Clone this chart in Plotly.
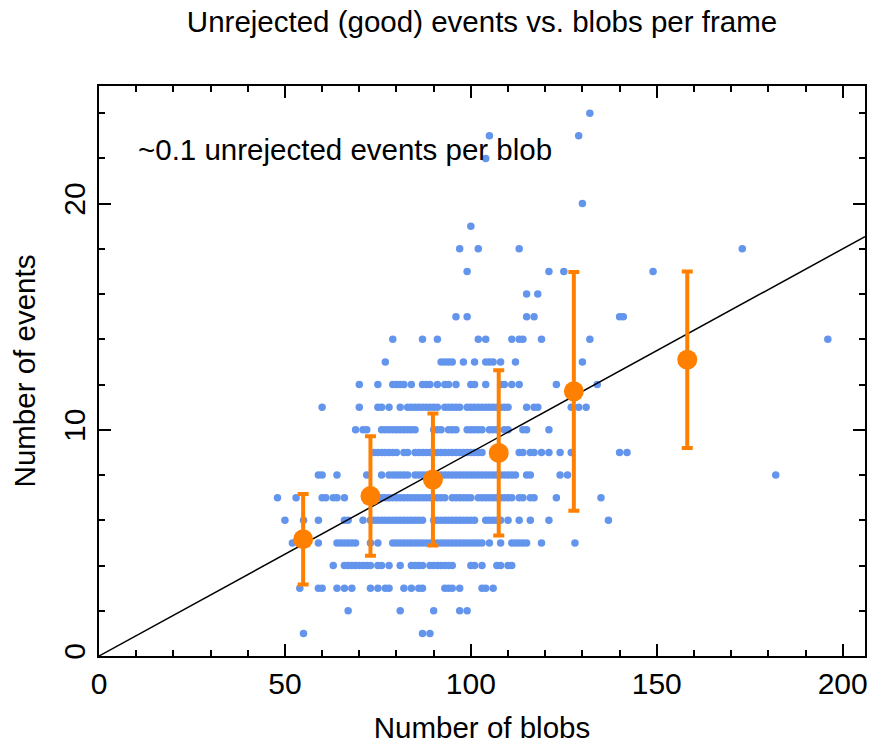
import plotly.graph_objects as go

# Blue scatter: blob counts for each number of (unrejected) events
ev1 = [55, 87, 89]
ev2 = [67, 81, 90, 97, 99]
ev3 = [54, 59, 60, 64, 66, 68, 73, 75, 77, 78, 82, 84, 86, 87, 93, 94, 95, 97, 103, 104, 106]
ev4 = [63, 66, 67, 68, 69, 70, 71, 72, 73, 75, 76, 78, 81, 84, 85, 86, 87, 89, 90, 91, 92, 93, 94, 95,
       100, 101, 103, 107, 108, 110, 111]
ev5 = [52, 55, 59, 64, 65, 66, 67, 68, 69, 73, 75, 79, 80, 81, 82, 83, 84, 85, 86, 87, 88, 89, 90, 91,
       92, 93, 94, 95, 96, 97, 98, 99, 100, 101, 102, 103, 105, 108, 111, 112, 113, 114, 115, 119, 128]
ev6 = [50, 55, 59, 66, 67, 71, 73, 74, 75, 76, 77, 78, 79, 80, 81, 82, 83, 84, 85, 86, 87, 90, 91, 92,
       93, 94, 95, 96, 97, 98, 99, 100, 101, 104, 105, 106, 107, 108, 110, 113, 116, 121, 137]
ev7 = [48, 53, 60, 61, 63, 64, 66, 73, 75, 76, 77, 78, 79, 80, 81, 82, 83, 84, 85, 86, 87, 88, 89, 90,
       91, 92, 93, 95, 96, 97, 98, 99, 100, 102, 103, 104, 105, 106, 107, 108, 109, 110, 111, 113, 114,
       116, 117, 123, 135]
ev8 = [59, 60, 64, 72, 76, 78, 79, 80, 81, 82, 83, 85, 86, 87, 88, 90, 91, 92, 93, 94, 95, 96, 97, 98,
       99, 100, 101, 102, 103, 104, 105, 106, 107, 108, 109, 110, 111, 112, 115, 116, 124, 126, 182]
ev9 = [74, 75, 76, 77, 78, 79, 80, 82, 83, 85, 86, 87, 88, 89, 90, 91, 92, 93, 94, 95, 96, 97, 98, 99,
       100, 101, 102, 103, 108, 113, 114, 116, 117, 119, 121, 124, 127, 140, 142]
ev10 = [69, 71, 72, 76, 77, 78, 79, 80, 81, 82, 83, 84, 85, 90, 91, 92, 94, 95, 96, 99, 100, 101, 102,
        103, 105, 106, 107, 109, 110, 114, 115, 121]
ev11 = [60, 70, 75, 76, 78, 81, 83, 84, 85, 86, 87, 88, 89, 90, 91, 93, 94, 95, 96, 97, 99, 100, 101,
        102, 103, 104, 105, 106, 107, 108, 109, 110, 115, 117, 118, 127, 129, 131]
ev12 = [70, 75, 79, 80, 81, 82, 84, 87, 88, 89, 91, 93, 94, 96, 100, 101, 104, 108, 109, 111, 113, 123, 134]
ev13 = [77, 92, 93, 94, 95, 98, 101, 104, 105, 106, 108, 112, 130]
ev14 = [79, 87, 91, 102, 104, 111, 113, 114, 119, 132, 196]
ev15 = [96, 99, 115, 117, 140, 141]
ev16 = [115, 118]
ev17 = [99, 121, 125, 149]
ev18 = [97, 102, 113, 173]
ev19 = [100]
ev20 = [130]
ev22 = [104]
ev23 = [105, 129]
ev24 = [132]

rows = {1: ev1, 2: ev2, 3: ev3, 4: ev4, 5: ev5, 6: ev6, 7: ev7, 8: ev8, 9: ev9, 10: ev10,
        11: ev11, 12: ev12, 13: ev13, 14: ev14, 15: ev15, 16: ev16, 17: ev17, 18: ev18,
        19: ev19, 20: ev20, 22: ev22, 23: ev23, 24: ev24}

# Binned means (orange) with error bars
mean_blobs = [54.9, 73.0, 89.8, 107.5, 127.7, 158.2]
mean_events = [5.16, 7.07, 7.8, 8.98, 11.7, 13.1]
mean_err = [2.0, 2.64, 2.92, 3.65, 5.28, 3.9]

# Reference line: ~0.09 events per blob
line_x = [0, 206]
slope = 0.09

scatter_x, scatter_y = [], []
for ev, blobs in rows.items():
    for b in blobs:
        scatter_x.append(b)
        scatter_y.append(ev)

FONT = "Liberation Sans, Arial, Helvetica, sans-serif"

fig = go.Figure()
fig.add_trace(go.Scatter(x=scatter_x, y=scatter_y, mode="markers",
                         marker=dict(color="#6495ED", size=7.5, line=dict(width=0)),
                         showlegend=False, hoverinfo="skip"))
fig.add_trace(go.Scatter(x=line_x, y=[slope * v for v in line_x], mode="lines",
                         line=dict(color="black", width=1.5), showlegend=False))
fig.add_trace(go.Scatter(x=mean_blobs, y=mean_events, mode="markers",
                         marker=dict(color="#FF8000", size=20, line=dict(width=0)),
                         error_y=dict(type="data", array=mean_err, color="#FF8000",
                                      thickness=4, width=5.5),
                         showlegend=False))

axis_common = dict(showline=True, linecolor="black", linewidth=1.5, mirror="allticks",
                   ticks="inside", ticklen=12, tickwidth=1.5, tickcolor="black",
                   showgrid=False, zeroline=False, automargin=False,
                   tickfont=dict(family=FONT, size=30, color="black"))

fig.update_layout(
    width=884, height=744,
    margin=dict(l=99, r=19, t=86, b=88),
    plot_bgcolor="white", paper_bgcolor="white",
    title=dict(text="Unrejected (good) events vs. blobs per frame",
               x=0.5, xref="paper", xanchor="center", y=1 - 22 / 744, yanchor="middle",
               yref="container",
               font=dict(family=FONT, size=29.5, color="black")),
    xaxis=dict(range=[0, 206], tickvals=[0, 50, 100, 150, 200],
               minor=dict(dtick=10, ticks="inside", ticklen=6, tickwidth=1.5, tickcolor="black"),
               title=dict(text="Number of blobs", standoff=20,
                          font=dict(family=FONT, size=29.5, color="black")),
               **axis_common),
    yaxis=dict(range=[0, 25.2], tickvals=[0, 10, 20], tickangle=-90,
               minor=dict(dtick=2, ticks="inside", ticklen=6, tickwidth=1.5, tickcolor="black"),
               title=dict(text="Number of events", standoff=14,
                          font=dict(family=FONT, size=29.5, color="black")),
               **axis_common),
    annotations=[dict(text="~0.1 unrejected events per blob", x=10, y=22.4,
                      xref="x", yref="y", xanchor="left", yanchor="middle", showarrow=False,
                      font=dict(family=FONT, size=29.5, color="black"))],
)

fig.write_html("out.html")
